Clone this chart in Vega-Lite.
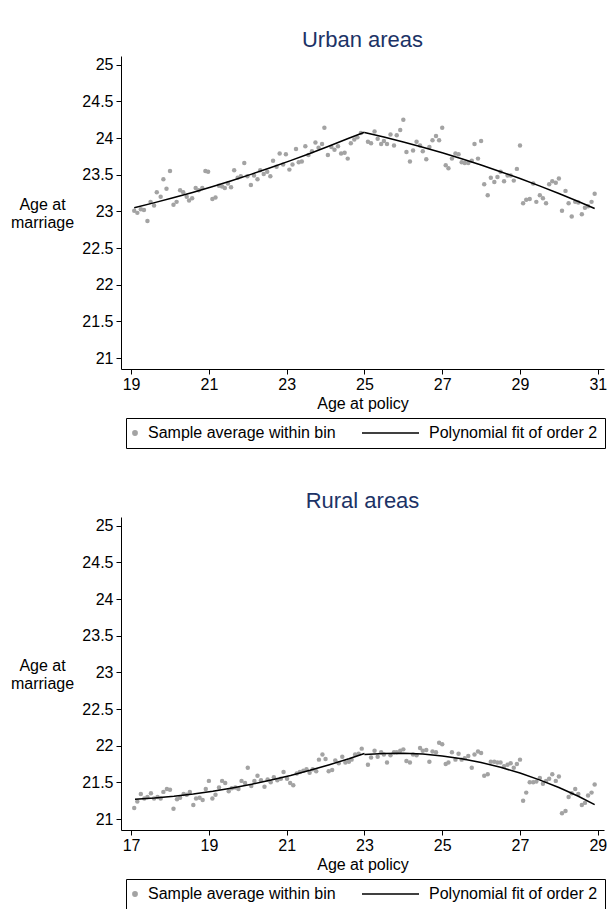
{
  "$schema": "https://vega.github.io/schema/vega-lite/v6.json",
  "padding": {"top": 29, "left": 10, "right": 0, "bottom": 0},
  "spacing": 41,
  "datasets": {
    "urban_pts": [
      {"x":19.08,"y":23.01},{"x":19.16,"y":22.98},{"x":19.25,"y":23.03},{"x":19.33,"y":23.02},{"x":19.42,"y":22.87},{"x":19.50,"y":23.13},{"x":19.59,"y":23.08},{"x":19.66,"y":23.26},{"x":19.76,"y":23.20},{"x":19.83,"y":23.44},{"x":19.91,"y":23.31},{"x":20.00,"y":23.55},{"x":20.09,"y":23.09},{"x":20.17,"y":23.13},{"x":20.26,"y":23.29},{"x":20.34,"y":23.26},{"x":20.43,"y":23.20},{"x":20.49,"y":23.15},{"x":20.57,"y":23.18},{"x":20.66,"y":23.32},{"x":20.74,"y":23.29},{"x":20.83,"y":23.32},{"x":20.91,"y":23.55},{"x":20.98,"y":23.54},{"x":21.09,"y":23.17},{"x":21.17,"y":23.19},{"x":21.26,"y":23.35},{"x":21.34,"y":23.34},{"x":21.41,"y":23.32},{"x":21.49,"y":23.38},{"x":21.57,"y":23.33},{"x":21.65,"y":23.56},{"x":21.74,"y":23.46},{"x":21.82,"y":23.48},{"x":21.91,"y":23.66},{"x":21.99,"y":23.48},{"x":22.08,"y":23.36},{"x":22.16,"y":23.49},{"x":22.25,"y":23.44},{"x":22.32,"y":23.56},{"x":22.41,"y":23.51},{"x":22.50,"y":23.54},{"x":22.58,"y":23.48},{"x":22.65,"y":23.69},{"x":22.74,"y":23.61},{"x":22.82,"y":23.79},{"x":22.91,"y":23.64},{"x":22.98,"y":23.78},{"x":23.07,"y":23.57},{"x":23.15,"y":23.64},{"x":23.24,"y":23.85},{"x":23.31,"y":23.67},{"x":23.39,"y":23.68},{"x":23.48,"y":23.89},{"x":23.56,"y":23.77},{"x":23.65,"y":23.82},{"x":23.74,"y":23.94},{"x":23.82,"y":23.87},{"x":23.91,"y":23.92},{"x":23.97,"y":24.14},{"x":24.06,"y":23.77},{"x":24.15,"y":23.88},{"x":24.23,"y":23.84},{"x":24.32,"y":23.89},{"x":24.40,"y":23.79},{"x":24.49,"y":23.80},{"x":24.57,"y":23.72},{"x":24.65,"y":23.93},{"x":24.74,"y":23.98},{"x":24.82,"y":24.01},{"x":24.91,"y":24.07},
      {"x":25.09,"y":23.95},{"x":25.17,"y":23.93},{"x":25.26,"y":24.09},{"x":25.34,"y":23.99},{"x":25.43,"y":23.92},{"x":25.50,"y":23.96},{"x":25.58,"y":23.92},{"x":25.67,"y":24.05},{"x":25.76,"y":23.90},{"x":25.83,"y":24.04},{"x":25.92,"y":24.11},{"x":26.00,"y":24.25},{"x":26.08,"y":23.81},{"x":26.17,"y":23.68},{"x":26.25,"y":23.83},{"x":26.34,"y":23.95},{"x":26.43,"y":23.90},{"x":26.50,"y":23.82},{"x":26.59,"y":23.71},{"x":26.67,"y":23.88},{"x":26.75,"y":23.97},{"x":26.84,"y":24.03},{"x":26.92,"y":23.97},{"x":27.00,"y":24.14},{"x":27.09,"y":23.63},{"x":27.16,"y":23.59},{"x":27.25,"y":23.72},{"x":27.34,"y":23.79},{"x":27.42,"y":23.78},{"x":27.50,"y":23.67},{"x":27.58,"y":23.66},{"x":27.67,"y":23.66},{"x":27.76,"y":23.69},{"x":27.83,"y":23.92},{"x":27.92,"y":23.72},{"x":28.00,"y":23.96},{"x":28.08,"y":23.37},{"x":28.17,"y":23.22},{"x":28.25,"y":23.46},{"x":28.34,"y":23.40},{"x":28.42,"y":23.47},{"x":28.50,"y":23.54},{"x":28.59,"y":23.41},{"x":28.68,"y":23.49},{"x":28.76,"y":23.49},{"x":28.84,"y":23.42},{"x":28.92,"y":23.58},{"x":29.00,"y":23.90},{"x":29.08,"y":23.11},{"x":29.16,"y":23.16},{"x":29.25,"y":23.17},{"x":29.34,"y":23.38},{"x":29.42,"y":23.13},{"x":29.51,"y":23.22},{"x":29.59,"y":23.18},{"x":29.67,"y":23.11},{"x":29.75,"y":23.37},{"x":29.83,"y":23.41},{"x":29.92,"y":23.39},{"x":30.00,"y":23.45},{"x":30.08,"y":23.01},{"x":30.17,"y":23.28},{"x":30.25,"y":23.11},{"x":30.33,"y":22.93},{"x":30.42,"y":23.13},{"x":30.50,"y":23.12},{"x":30.59,"y":22.96},{"x":30.67,"y":23.05},{"x":30.75,"y":23.07},{"x":30.84,"y":23.13},{"x":30.92,"y":23.24}
    ],
    "urban_fit": [
      {"x":19.08,"y":23.050,"seg":"L"},{"x":19.58,"y":23.116,"seg":"L"},{"x":20.08,"y":23.186,"seg":"L"},{"x":20.58,"y":23.259,"seg":"L"},{"x":21.08,"y":23.337,"seg":"L"},{"x":21.58,"y":23.419,"seg":"L"},{"x":22.08,"y":23.505,"seg":"L"},{"x":22.58,"y":23.595,"seg":"L"},{"x":23.08,"y":23.689,"seg":"L"},{"x":23.58,"y":23.787,"seg":"L"},{"x":24.08,"y":23.889,"seg":"L"},{"x":24.58,"y":23.995,"seg":"L"},{"x":25.0,"y":24.080,"seg":"L"},
      {"x":25.0,"y":24.076,"seg":"R"},{"x":25.5,"y":24.014,"seg":"R"},{"x":26.0,"y":23.947,"seg":"R"},{"x":26.5,"y":23.875,"seg":"R"},{"x":27.0,"y":23.799,"seg":"R"},{"x":27.5,"y":23.718,"seg":"R"},{"x":28.0,"y":23.632,"seg":"R"},{"x":28.5,"y":23.542,"seg":"R"},{"x":29.0,"y":23.448,"seg":"R"},{"x":29.5,"y":23.348,"seg":"R"},{"x":30.0,"y":23.244,"seg":"R"},{"x":30.5,"y":23.136,"seg":"R"},{"x":30.92,"y":23.040,"seg":"R"}
    ],
    "rural_pts": [
      {"x":17.08,"y":21.15},{"x":17.16,"y":21.24},{"x":17.25,"y":21.34},{"x":17.34,"y":21.28},{"x":17.42,"y":21.30},{"x":17.51,"y":21.35},{"x":17.59,"y":21.28},{"x":17.68,"y":21.30},{"x":17.76,"y":21.28},{"x":17.83,"y":21.37},{"x":17.92,"y":21.41},{"x":18.00,"y":21.40},{"x":18.09,"y":21.14},{"x":18.18,"y":21.27},{"x":18.26,"y":21.29},{"x":18.35,"y":21.34},{"x":18.43,"y":21.33},{"x":18.51,"y":21.37},{"x":18.60,"y":21.19},{"x":18.67,"y":21.28},{"x":18.76,"y":21.29},{"x":18.84,"y":21.26},{"x":18.92,"y":21.41},{"x":19.00,"y":21.52},{"x":19.09,"y":21.28},{"x":19.17,"y":21.33},{"x":19.26,"y":21.43},{"x":19.34,"y":21.52},{"x":19.42,"y":21.49},{"x":19.51,"y":21.38},{"x":19.59,"y":21.42},{"x":19.68,"y":21.43},{"x":19.76,"y":21.41},{"x":19.84,"y":21.52},{"x":19.93,"y":21.49},{"x":20.00,"y":21.70},{"x":20.09,"y":21.45},{"x":20.17,"y":21.52},{"x":20.25,"y":21.59},{"x":20.34,"y":21.53},{"x":20.43,"y":21.44},{"x":20.51,"y":21.54},{"x":20.59,"y":21.50},{"x":20.67,"y":21.57},{"x":20.76,"y":21.53},{"x":20.85,"y":21.55},{"x":20.92,"y":21.64},{"x":21.01,"y":21.55},{"x":21.09,"y":21.49},{"x":21.17,"y":21.46},{"x":21.26,"y":21.62},{"x":21.34,"y":21.64},{"x":21.43,"y":21.66},{"x":21.51,"y":21.68},{"x":21.59,"y":21.63},{"x":21.67,"y":21.68},{"x":21.76,"y":21.65},{"x":21.83,"y":21.81},{"x":21.92,"y":21.88},{"x":22.00,"y":21.82},{"x":22.08,"y":21.65},{"x":22.17,"y":21.67},{"x":22.25,"y":21.80},{"x":22.34,"y":21.76},{"x":22.43,"y":21.85},{"x":22.51,"y":21.77},{"x":22.60,"y":21.78},{"x":22.67,"y":21.81},{"x":22.76,"y":21.88},{"x":22.85,"y":21.89},{"x":22.93,"y":21.96},
      {"x":23.09,"y":21.74},{"x":23.17,"y":21.84},{"x":23.26,"y":21.93},{"x":23.34,"y":21.85},{"x":23.43,"y":21.91},{"x":23.50,"y":21.88},{"x":23.58,"y":21.77},{"x":23.67,"y":21.87},{"x":23.76,"y":21.91},{"x":23.83,"y":21.91},{"x":23.92,"y":21.93},{"x":24.00,"y":21.95},{"x":24.08,"y":21.79},{"x":24.17,"y":21.77},{"x":24.25,"y":21.88},{"x":24.34,"y":21.87},{"x":24.43,"y":21.97},{"x":24.50,"y":21.93},{"x":24.59,"y":21.94},{"x":24.67,"y":21.78},{"x":24.75,"y":21.92},{"x":24.84,"y":21.91},{"x":24.92,"y":22.04},{"x":25.00,"y":22.02},{"x":25.09,"y":21.75},{"x":25.16,"y":21.77},{"x":25.25,"y":21.91},{"x":25.34,"y":21.81},{"x":25.42,"y":21.89},{"x":25.50,"y":21.81},{"x":25.58,"y":21.83},{"x":25.67,"y":21.86},{"x":25.76,"y":21.70},{"x":25.83,"y":21.88},{"x":25.92,"y":21.92},{"x":26.00,"y":21.90},{"x":26.08,"y":21.59},{"x":26.17,"y":21.61},{"x":26.25,"y":21.78},{"x":26.34,"y":21.78},{"x":26.42,"y":21.77},{"x":26.50,"y":21.77},{"x":26.59,"y":21.72},{"x":26.68,"y":21.74},{"x":26.76,"y":21.76},{"x":26.84,"y":21.70},{"x":26.92,"y":21.75},{"x":27.00,"y":21.81},{"x":27.08,"y":21.25},{"x":27.16,"y":21.36},{"x":27.25,"y":21.50},{"x":27.34,"y":21.50},{"x":27.42,"y":21.51},{"x":27.51,"y":21.56},{"x":27.59,"y":21.48},{"x":27.67,"y":21.52},{"x":27.75,"y":21.55},{"x":27.83,"y":21.61},{"x":27.92,"y":21.52},{"x":28.00,"y":21.58},{"x":28.08,"y":21.08},{"x":28.17,"y":21.11},{"x":28.25,"y":21.30},{"x":28.33,"y":21.35},{"x":28.42,"y":21.41},{"x":28.50,"y":21.34},{"x":28.59,"y":21.19},{"x":28.67,"y":21.22},{"x":28.75,"y":21.32},{"x":28.84,"y":21.36},{"x":28.92,"y":21.47}
    ],
    "rural_fit": [
      {"x":17.1,"y":21.268,"seg":"L"},{"x":17.6,"y":21.286,"seg":"L"},{"x":18.1,"y":21.311,"seg":"L"},{"x":18.6,"y":21.342,"seg":"L"},{"x":19.1,"y":21.380,"seg":"L"},{"x":19.6,"y":21.424,"seg":"L"},{"x":20.1,"y":21.474,"seg":"L"},{"x":20.6,"y":21.531,"seg":"L"},{"x":21.1,"y":21.594,"seg":"L"},{"x":21.6,"y":21.664,"seg":"L"},{"x":22.1,"y":21.741,"seg":"L"},{"x":22.6,"y":21.823,"seg":"L"},{"x":23.0,"y":21.894,"seg":"L"},
      {"x":23.0,"y":21.880,"seg":"R"},{"x":23.5,"y":21.895,"seg":"R"},{"x":24.0,"y":21.897,"seg":"R"},{"x":24.5,"y":21.886,"seg":"R"},{"x":25.0,"y":21.861,"seg":"R"},{"x":25.5,"y":21.822,"seg":"R"},{"x":26.0,"y":21.770,"seg":"R"},{"x":26.5,"y":21.705,"seg":"R"},{"x":27.0,"y":21.627,"seg":"R"},{"x":27.5,"y":21.534,"seg":"R"},{"x":28.0,"y":21.429,"seg":"R"},{"x":28.5,"y":21.310,"seg":"R"},{"x":28.92,"y":21.196,"seg":"R"}
    ]
  },
  "vconcat": [
    {
      "title": "Urban areas",
      "width": 483,
      "height": 313,
      "encoding": {
        "x": {"field": "x", "type": "quantitative", "scale": {"domain": [18.74, 31.16], "nice": false, "zero": false},
              "axis": {"title": "Age at policy", "values": [19,21,23,25,27,29,31], "format": "d"}},
        "y": {"field": "y", "type": "quantitative", "scale": {"domain": [20.85, 25.12], "nice": false, "zero": false},
              "axis": {"title": ["Age at", "marriage"], "values": [21,21.5,22,22.5,23,23.5,24,24.5,25], "format": "~g"}}
      },
      "layer": [
        {
          "data": {"name": "urban_pts"},
          "mark": {"type": "point", "filled": true, "opacity": 1, "size": 20},
          "encoding": {
            "color": {"datum": "Sample average within bin", "type": "nominal",
                      "scale": {"domain": ["Sample average within bin", "Polynomial fit of order 2"], "range": ["#a3a3a3", "#000000"]},
                      "legend": {
                        "title": null, "orient": "none", "legendX": 5, "legendY": 362, "direction": "horizontal",
                        "strokeColor": "#000000", "padding": 7,
                        "labelFontSize": 16, "labelFont": "Liberation Sans", "labelColor": "#000000", "labelLimit": 400,
                        "columnPadding": 23, "symbolOpacity": 1,
                        "encode": {
                          "symbols": {"update": {
                            "shape": {"signal": "datum.value === 'Polynomial fit of order 2' ? 'stroke' : 'circle'"},
                            "size": {"signal": "datum.value === 'Polynomial fit of order 2' ? 3249 : 20"},
                            "stroke": {"signal": "datum.value === 'Polynomial fit of order 2' ? '#000000' : 'transparent'"},
                            "fill": {"signal": "datum.value === 'Polynomial fit of order 2' ? 'transparent' : '#a3a3a3'"},
                            "strokeWidth": {"value": 1.3},
                            "x": {"signal": "datum.value === 'Polynomial fit of order 2' ? 28.5 : 2"}
                          }},
                          "labels": {"update": {
                            "x": {"signal": "datum.value === 'Polynomial fit of order 2' ? 67 : 15"},
                            "text": {"signal": "datum.value === 'Polynomial fit of order 2' ? datum.label + '      ' : datum.label"}
                          }}
                        }
                      }}
          }
        },
        {
          "data": {"name": "urban_fit"},
          "mark": {"type": "line", "strokeWidth": 1.5},
          "encoding": {
            "detail": {"field": "seg"},
            "color": {"datum": "Polynomial fit of order 2", "type": "nominal"}
          }
        },
        {
          "mark": {"type": "rule", "color": "#555555", "strokeWidth": 1.5},
          "encoding": {"x": {"datum": 25}, "y": {"value": 0}, "y2": {"value": 313}}
        }
      ]
    },
    {
      "title": "Rural areas",
      "width": 483,
      "height": 313,
      "encoding": {
        "x": {"field": "x", "type": "quantitative", "scale": {"domain": [16.74, 29.16], "nice": false, "zero": false},
              "axis": {"title": "Age at policy", "values": [17,19,21,23,25,27,29], "format": "d"}},
        "y": {"field": "y", "type": "quantitative", "scale": {"domain": [20.85, 25.12], "nice": false, "zero": false},
              "axis": {"title": ["Age at", "marriage"], "values": [21,21.5,22,22.5,23,23.5,24,24.5,25], "format": "~g"}}
      },
      "layer": [
        {
          "data": {"name": "rural_pts"},
          "mark": {"type": "point", "filled": true, "opacity": 1, "size": 20},
          "encoding": {
            "color": {"datum": "Sample average within bin", "type": "nominal",
                      "scale": {"domain": ["Sample average within bin", "Polynomial fit of order 2"], "range": ["#a3a3a3", "#000000"]},
                      "legend": {
                        "title": null, "orient": "none", "legendX": 5, "legendY": 362, "direction": "horizontal",
                        "strokeColor": "#000000", "padding": 7,
                        "labelFontSize": 16, "labelFont": "Liberation Sans", "labelColor": "#000000", "labelLimit": 400,
                        "columnPadding": 23, "symbolOpacity": 1,
                        "encode": {
                          "symbols": {"update": {
                            "shape": {"signal": "datum.value === 'Polynomial fit of order 2' ? 'stroke' : 'circle'"},
                            "size": {"signal": "datum.value === 'Polynomial fit of order 2' ? 3249 : 20"},
                            "stroke": {"signal": "datum.value === 'Polynomial fit of order 2' ? '#000000' : 'transparent'"},
                            "fill": {"signal": "datum.value === 'Polynomial fit of order 2' ? 'transparent' : '#a3a3a3'"},
                            "strokeWidth": {"value": 1.3},
                            "x": {"signal": "datum.value === 'Polynomial fit of order 2' ? 28.5 : 2"}
                          }},
                          "labels": {"update": {
                            "x": {"signal": "datum.value === 'Polynomial fit of order 2' ? 67 : 15"},
                            "text": {"signal": "datum.value === 'Polynomial fit of order 2' ? datum.label + '      ' : datum.label"}
                          }}
                        }
                      }}
          }
        },
        {
          "data": {"name": "rural_fit"},
          "mark": {"type": "line", "strokeWidth": 1.5},
          "encoding": {
            "detail": {"field": "seg"},
            "color": {"datum": "Polynomial fit of order 2", "type": "nominal"}
          }
        },
        {
          "mark": {"type": "rule", "color": "#555555", "strokeWidth": 1.5},
          "encoding": {"x": {"datum": 23}, "y": {"value": 0}, "y2": {"value": 313}}
        }
      ]
    }
  ],
  "resolve": {"scale": {"color": "independent", "x": "independent", "y": "independent"}, "legend": {"color": "independent"}},
  "config": {
    "font": "Liberation Sans",
    "view": {"stroke": null},
    "title": {"fontSize": 22, "fontWeight": "normal", "color": "#1c3366", "anchor": "middle", "offset": 4, "font": "Liberation Sans"},
    "axis": {
      "grid": false, "domainColor": "#000000", "tickColor": "#000000", "tickSize": 5,
      "labelFontSize": 16, "labelColor": "#000000", "labelFont": "Liberation Sans",
      "titleFontSize": 16, "titleFontWeight": "normal", "titleColor": "#000000", "titleFont": "Liberation Sans",
      "labelFlush": false, "labelOverlap": false
    },
    "axisX": {"labelPadding": 2, "titlePadding": 3},
    "axisY": {"labelPadding": 3, "titleAngle": 0, "titleAlign": "center", "titleBaseline": "middle", "titleX": -79, "titleY": 148}
  }
}
